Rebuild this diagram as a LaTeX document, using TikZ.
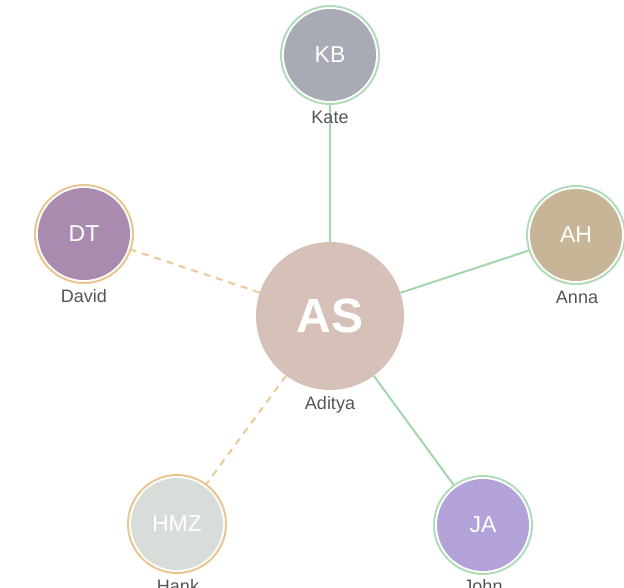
\documentclass[tikz,border=0pt]{standalone}
\usepackage{fontspec}
\setmainfont{Liberation Sans}
\definecolor{ringgreen}{HTML}{B2DCB9}
\definecolor{edgegreen}{HTML}{A3D6AC}
\definecolor{ringorange}{HTML}{E8C690}
\definecolor{edgeorange}{HTML}{E9CA98}
\definecolor{labelgray}{HTML}{555555}
\definecolor{fKB}{HTML}{A9ABB4}
\definecolor{fDT}{HTML}{A88BAE}
\definecolor{fAH}{HTML}{C6B596}
\definecolor{fAS}{HTML}{D6C1B9}
\definecolor{fHMZ}{HTML}{D9DDD9}
\definecolor{fJA}{HTML}{B3A3D9}
\tikzset{
  person/.style={circle, inner sep=0pt, minimum size=92pt, text=white, font=\fontsize{23}{23}\selectfont},
  ringg/.style={circle, draw=ringgreen, line width=2pt, minimum size=98pt, inner sep=0pt},
  ringo/.style={circle, draw=ringorange, line width=2pt, minimum size=98pt, inner sep=0pt},
  namelabel/.style={text=labelgray, font=\fontsize{18}{18}\selectfont, inner sep=0pt},
  solidedge/.style={draw=edgegreen, line width=2pt},
  dashedge/.style={draw=edgeorange, line width=2pt, dash pattern=on 7pt off 6pt},
}
\begin{document}
\begin{tikzpicture}[x=1pt,y=-1pt]
\useasboundingbox (0,0) rectangle (624,588);
% rings (outer)
\node[ringg] (KBr) at (330,55) {};
\node[ringo] (DTr) at (84,234) {};
\node[ringg] (AHr) at (576,235) {};
\node[ringo] (HMZr) at (177,524) {};
\node[ringg] (JAr) at (483,525) {};
\node[circle, inner sep=0pt, minimum size=148pt] (ASr) at (330,316) {};
% edges
\draw[solidedge] (ASr) -- (KBr);
\draw[solidedge] (ASr) -- (AHr);
\draw[solidedge] (ASr) -- (JAr);
\draw[dashedge] (ASr) -- (DTr);
\draw[dashedge] (ASr) -- (HMZr);
% filled circles
\node[person, fill=fKB] (KB) at (330,55) {KB};
\node[person, fill=fDT] (DT) at (84,234) {DT};
\node[person, fill=fAH] (AH) at (576,235) {AH};
\node[person, fill=fHMZ] (HMZ) at (177,524) {HMZ};
\node[person, fill=fJA] (JA) at (483,525) {JA};
\node[person, fill=fAS, minimum size=148pt, font=\fontsize{48}{48}\selectfont\bfseries] (AS) at (330,316) {AS};
% labels
\node[namelabel] (lKB) at (330,117) {Kate};
\node[namelabel] (lDT) at (84,296) {David};
\node[namelabel] (lAH) at (577,297) {Anna};
\node[namelabel] (lAS) at (330,405) {Aditya};
\node[namelabel] (lHMZ) at (178,586) {Hank};
\node[namelabel] (lJA) at (483,586) {John};
\end{tikzpicture}
\end{document}
